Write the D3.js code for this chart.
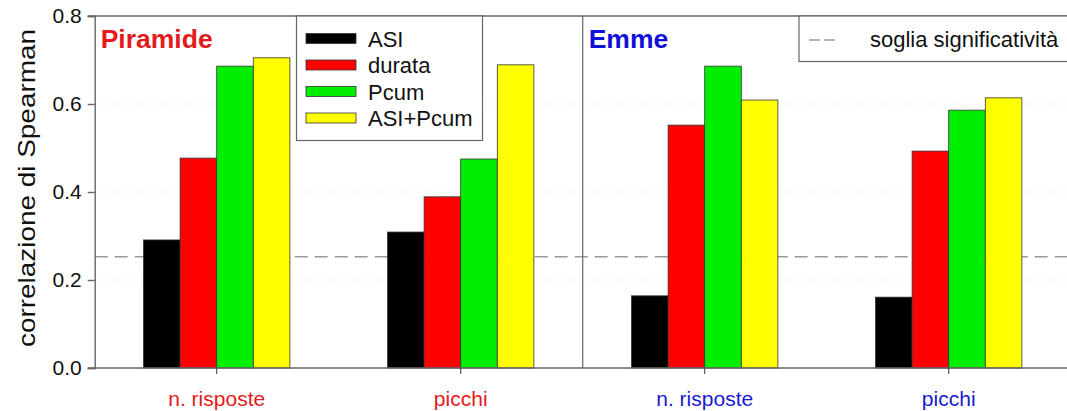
<!DOCTYPE html>
<html>
<head>
<meta charset="utf-8">
<script src="https://cdn.jsdelivr.net/npm/d3@7"></script>
<style>
  body { margin: 0; background: #fff; }
  svg { display: block; font-family: "Liberation Sans", Arial, sans-serif; }
</style>
</head>
<body>
<svg id="chart" width="1067" height="411"></svg>
<script>
// data
const groups = ['Piramide n. risposte', 'Piramide picchi', 'Emme n. risposte', 'Emme picchi'];
const groupLabels = ['n. risposte', 'picchi', 'n. risposte', 'picchi'];
const groupColors = ['#e41a1c', '#e41a1c', '#1a1ad0', '#1a1ad0'];
const series = ['ASI', 'durata', 'Pcum', 'ASI+Pcum'];
const seriesColors = ['#000000', '#ff0000', '#00ee00', '#ffff00'];
const asi = [0.291, 0.309, 0.164, 0.161];
const durata = [0.477, 0.389, 0.552, 0.493];
const pcum = [0.686, 0.475, 0.686, 0.586];
const asiPcum = [0.705, 0.689, 0.609, 0.614];
const threshold = 0.253;
const yTicks = [0, 0.2, 0.4, 0.6, 0.8];
const panels = ['Piramide', 'Emme'];
const panelColors = ['#e41a1c', '#1010d8'];

const values = [asi, durata, pcum, asiPcum];

const svg = d3.select('#chart');
const plotLeft = 94.7, plotRight = 1070.7, plotTop = 16, plotBottom = 368;

const x = d3.scaleBand().domain(groups).range([plotLeft, plotRight])
  .paddingInner(0.4).paddingOuter(0.2);
const xs = d3.scaleBand().domain(series).range([0, x.bandwidth()]);
const y = d3.scaleLinear().domain([0, 0.8]).range([plotBottom, plotTop]);

// faint dotted grid
svg.append('g').selectAll('line')
  .data(yTicks.slice(1, -1))
  .join('line')
  .attr('x1', plotLeft).attr('x2', plotRight)
  .attr('y1', d => y(d)).attr('y2', d => y(d))
  .attr('stroke', '#e4e4e4').attr('stroke-dasharray', '1,2');

// threshold line
svg.append('line')
  .attr('x1', plotLeft).attr('x2', plotRight)
  .attr('y1', y(threshold)).attr('y2', y(threshold))
  .attr('stroke', '#9a9a9a').attr('stroke-width', 1.6)
  .attr('stroke-dasharray', '13,7');

// bars
const barG = svg.append('g');
series.forEach((s, si) => {
  barG.append('g').selectAll('rect')
    .data(groups.map((g, gi) => ({ g, v: values[si][gi] })))
    .join('rect')
    .attr('x', d => x(d.g) + xs(s))
    .attr('width', xs.bandwidth())
    .attr('y', d => y(d.v))
    .attr('height', d => y(0) - y(d.v))
    .attr('fill', seriesColors[si])
    .attr('stroke', '#333').attr('stroke-width', 0.8);
});

// panel divider
svg.append('line')
  .attr('x1', (plotLeft + plotRight) / 2).attr('x2', (plotLeft + plotRight) / 2)
  .attr('y1', plotTop).attr('y2', plotBottom)
  .attr('stroke', '#666').attr('stroke-width', 1.2);

// y axis
const yAxis = svg.append('g')
  .attr('transform', `translate(${plotLeft},0)`)
  .call(d3.axisLeft(y).tickValues(yTicks).tickFormat(d3.format('.1f')).tickSize(7).tickPadding(6));
yAxis.select('.domain').attr('stroke', '#666').attr('stroke-width', 1.4);
yAxis.selectAll('.tick line').attr('stroke', '#666').attr('stroke-width', 1.4);
yAxis.selectAll('.tick text').attr('font-size', 21).attr('fill', '#111');

// top and bottom frame lines
svg.append('g').selectAll('line')
  .data([plotTop, plotBottom])
  .join('line')
  .attr('x1', plotLeft - 7).attr('x2', plotRight)
  .attr('y1', d => d).attr('y2', d => d)
  .attr('stroke', '#666').attr('stroke-width', 1.4);

// x ticks and labels
const xAxis = svg.append('g')
  .attr('transform', `translate(0,${plotBottom})`)
  .call(d3.axisBottom(x).tickSize(6).tickPadding(17).tickFormat((d, i) => groupLabels[i]));
xAxis.select('.domain').remove();
xAxis.selectAll('.tick line').attr('stroke', '#555').attr('stroke-width', 1.2);
xAxis.selectAll('.tick text')
  .attr('font-size', 21)
  .attr('fill', (d, i) => groupColors[i]);

// y label
svg.append('text')
  .attr('transform', `translate(35,188) rotate(-90)`)
  .attr('text-anchor', 'middle')
  .attr('font-size', 24)
  .attr('textLength', 318).attr('lengthAdjust', 'spacingAndGlyphs')
  .attr('fill', '#111')
  .text('correlazione di Spearman');

// panel titles
svg.append('g').selectAll('text')
  .data(panels)
  .join('text')
  .attr('x', (d, i) => (i === 0 ? plotLeft : (plotLeft + plotRight) / 2) + 6)
  .attr('y', 48)
  .attr('font-size', 26.5).attr('font-weight', 'bold')
  .attr('fill', (d, i) => panelColors[i])
  .text(d => d);

// series legend
const leg = svg.append('g');
leg.append('rect')
  .attr('x', 296.5).attr('y', plotTop).attr('width', 186).attr('height', 124.5)
  .attr('fill', '#fff').attr('stroke', '#666').attr('stroke-width', 1.2);
const legRows = leg.selectAll('g.row')
  .data(series)
  .join('g').attr('class', 'row')
  .attr('transform', (d, i) => `translate(306,${38.5 + i * 26.5})`);
legRows.append('rect')
  .attr('x', 0).attr('y', -5).attr('width', 50).attr('height', 10)
  .attr('fill', (d, i) => seriesColors[i])
  .attr('stroke', '#333').attr('stroke-width', 0.8);
legRows.append('text')
  .attr('x', 62).attr('y', 8)
  .attr('font-size', 22).attr('fill', '#111')
  .text(d => d);

// threshold legend
const leg2 = svg.append('g');
leg2.append('rect')
  .attr('x', 799).attr('y', plotTop).attr('width', 300).attr('height', 45.5)
  .attr('fill', '#fff').attr('stroke', '#666').attr('stroke-width', 1.2);
leg2.append('line')
  .attr('x1', 809).attr('x2', 835).attr('y1', 40).attr('y2', 40)
  .attr('stroke', '#9a9a9a').attr('stroke-width', 1.4)
  .attr('stroke-dasharray', '11,4');
leg2.append('text')
  .attr('x', 870).attr('y', 47)
  .attr('font-size', 22).attr('fill', '#111')
  .text('soglia significatività');
</script>
</body>
</html>
